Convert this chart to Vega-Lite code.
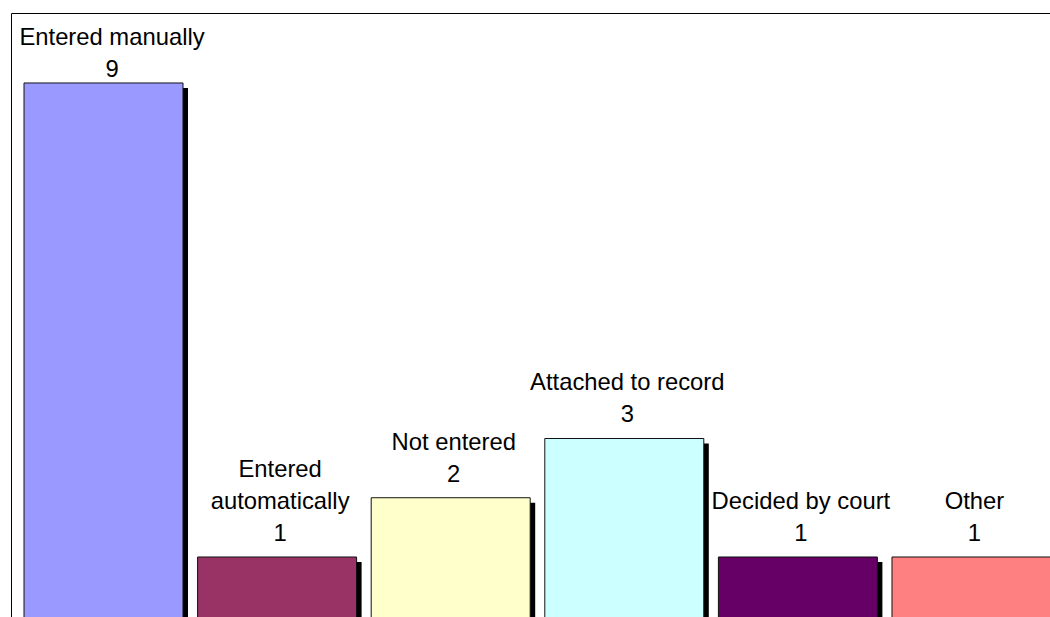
{
  "$schema": "https://vega.github.io/schema/vega-lite/v6.json",
  "width": 1039,
  "height": 604,
  "padding": {"left": 11, "top": 13, "right": 0, "bottom": 0},
  "autosize": {"type": "none"},
  "background": "#ffffff",
  "config": {
    "view": {"stroke": "#000000", "strokeWidth": 1, "strokeDash": [1039, 1643, 604, 0]},
    "font": "Liberation Sans",
    "text": {"font": "Liberation Sans", "fontSize": 23.8, "color": "#000000", "align": "center", "baseline": "alphabetic"}
  },
  "data": {
    "values": [
      {"status": "Entered manually", "count": 9},
      {"status": "Entered\nautomatically", "count": 1},
      {"status": "Not entered", "count": 2},
      {"status": "Attached to record", "count": 3},
      {"status": "Decided by court", "count": 1},
      {"status": "Other", "count": 1}
    ]
  },
  "encoding": {
    "x": {
      "field": "status",
      "type": "nominal",
      "sort": null,
      "axis": null,
      "scale": {"range": [0, 1053], "paddingInner": 0.0841, "paddingOuter": 0.0749}
    },
    "y": {
      "field": "count",
      "type": "quantitative",
      "axis": null,
      "scale": {"domain": [-0.2, 10.181], "range": [615.1, 0], "nice": false, "zero": false}
    }
  },
  "layer": [
    {
      "mark": {"type": "bar", "color": "#000000", "xOffset": 5, "yOffset": 5},
      "encoding": {"y2": {"datum": -0.2}}
    },
    {
      "mark": {"type": "bar", "stroke": "#111111", "strokeWidth": 1},
      "encoding": {
        "y2": {"datum": -0.2},
        "color": {
          "field": "status",
          "type": "nominal",
          "sort": null,
          "legend": null,
          "scale": {"range": ["#9999FF", "#993366", "#FFFFCC", "#CCFFFF", "#660066", "#FF8080"]}
        }
      }
    },
    {
      "transform": [{"filter": "datum.count < 9"}],
      "mark": {"type": "text", "dy": -16, "dx": 3},
      "encoding": {"text": {"field": "count", "type": "quantitative"}}
    },
    {
      "transform": [{"filter": "datum.count < 9 && indexof(datum.status, '\\n') < 0"}],
      "mark": {"type": "text", "dy": -48, "dx": 3},
      "encoding": {"text": {"field": "status", "type": "nominal"}}
    },
    {
      "transform": [{"filter": "datum.count < 9 && indexof(datum.status, '\\n') >= 0"}],
      "mark": {"type": "text", "lineBreak": "\n", "lineHeight": 32, "dy": -80, "dx": 3},
      "encoding": {"text": {"field": "status", "type": "nominal"}}
    },
    {
      "transform": [{"filter": "datum.count >= 9"}],
      "mark": {"type": "text", "dy": -5.5, "dx": 8.5},
      "encoding": {"text": {"field": "count", "type": "quantitative"}}
    },
    {
      "transform": [{"filter": "datum.count >= 9"}],
      "mark": {"type": "text", "dy": -38, "dx": 8.5},
      "encoding": {"text": {"field": "status", "type": "nominal"}}
    }
  ]
}
